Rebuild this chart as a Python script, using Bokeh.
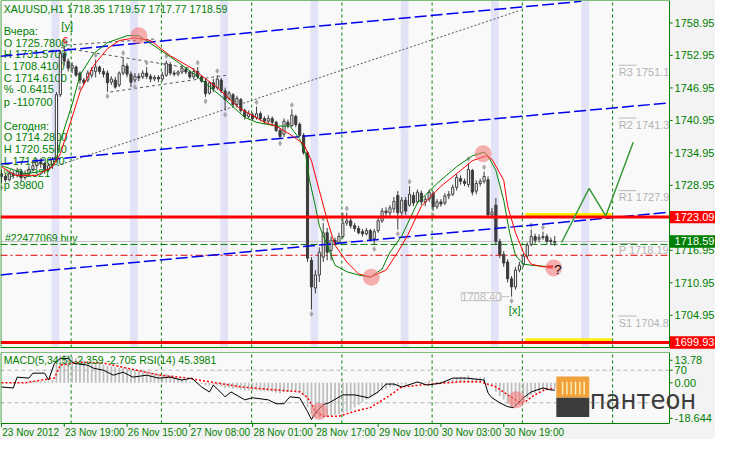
from bokeh.plotting import figure
from bokeh.models import Range1d, Label
from bokeh.layouts import column
from bokeh.embed import file_html
from bokeh.resources import INLINE
from bokeh.core.properties import value

GREEN = "#008000"
FONT = "Liberation Sans"

# ---------------- data ----------------
title_text = "XAUUSD,H1  1718.35 1719.57 1717.77 1718.59"
info_lines = ["Вчера:", "O 1725.7800", "H 1731.5700", "L 1708.4100", "C 1714.6100", "% -0.6415", "p -110700",
              "Сегодня:", "O 1714.2800", "H 1720.5500", "L 1714.0600", "% 0.2321", "p 39800"]

opens = [1731.1, 1730.6, 1730.0, 1731.1, 1730.8, 1731.5, 1730.4, 1731.1, 1731.9, 1732.6,
         1733.3, 1733.0, 1731.9, 1732.6, 1733.7, 1745.7, 1753.3, 1751.9, 1750.6, 1750.8,
         1749.7, 1748.4, 1748.4, 1749.3, 1750.0, 1750.8, 1750.0, 1749.7, 1748.0, 1748.4,
         1747.5, 1749.7, 1751.0, 1749.5, 1748.4, 1749.1, 1749.0, 1749.7, 1749.1, 1748.6,
         1748.9, 1748.6, 1749.3, 1751.3, 1749.7, 1749.5, 1749.9, 1750.4, 1749.9, 1749.0,
         1750.0, 1749.0, 1748.2, 1746.0, 1747.9, 1747.0, 1748.4, 1746.4, 1745.0, 1745.7,
         1743.9, 1744.8, 1742.8, 1741.7, 1742.0, 1741.5, 1742.2, 1741.3, 1740.8, 1741.3,
         1740.6, 1739.1, 1738.4, 1740.6, 1740.0, 1741.7, 1740.2, 1738.2, 1735.0, 1715.1,
         1710.0, 1712.4, 1715.7, 1720.2, 1716.9, 1718.8, 1718.4, 1719.5, 1722.0, 1722.4,
         1721.5, 1721.0, 1720.4, 1720.0, 1720.6, 1719.1, 1720.6, 1722.4, 1724.2, 1723.9,
         1724.6, 1727.1, 1723.9, 1726.2, 1725.3, 1727.1, 1725.9, 1727.5, 1725.9, 1726.4,
         1727.5, 1725.0, 1725.9, 1725.7, 1727.0, 1727.3, 1728.6, 1730.2, 1729.7, 1729.1,
         1731.7, 1727.9, 1729.3, 1729.7, 1730.0, 1723.5, 1725.3, 1718.6, 1716.2, 1714.8,
         1711.7, 1710.2, 1713.3, 1714.4, 1715.9, 1718.0, 1719.5, 1719.0, 1719.3, 1719.5,
         1718.8, 1718.35]
closes = [1730.6, 1730.0, 1731.1, 1730.8, 1731.5, 1730.4, 1731.1, 1731.9, 1732.6, 1733.3,
          1733.0, 1731.9, 1732.6, 1733.7, 1745.7, 1753.3, 1751.9, 1750.6, 1751.1, 1749.3,
          1748.4, 1747.9, 1749.7, 1750.2, 1750.8, 1750.0, 1749.5, 1747.9, 1748.6, 1747.1,
          1749.7, 1751.1, 1749.5, 1748.0, 1749.1, 1748.8, 1749.7, 1749.1, 1748.6, 1748.9,
          1748.6, 1749.3, 1751.5, 1749.7, 1749.5, 1749.9, 1750.6, 1749.9, 1749.0, 1750.0,
          1749.0, 1748.2, 1745.9, 1747.9, 1746.8, 1748.6, 1746.4, 1744.8, 1746.0, 1743.9,
          1745.0, 1742.8, 1741.7, 1742.2, 1741.3, 1742.2, 1741.3, 1740.8, 1741.3, 1740.6,
          1739.1, 1738.0, 1740.8, 1740.0, 1741.9, 1740.2, 1738.2, 1735.0, 1715.5, 1710.2,
          1712.4, 1716.6, 1720.2, 1716.6, 1718.8, 1718.4, 1719.5, 1722.0, 1722.4, 1721.5,
          1721.0, 1720.2, 1720.0, 1720.6, 1719.0, 1720.4, 1722.4, 1724.2, 1723.9, 1724.8,
          1726.0, 1723.9, 1726.2, 1724.2, 1727.3, 1725.7, 1727.7, 1725.9, 1726.4, 1727.7,
          1725.0, 1725.9, 1725.5, 1727.0, 1727.3, 1728.6, 1730.4, 1729.7, 1729.3, 1731.9,
          1727.7, 1729.3, 1729.7, 1730.6, 1723.5, 1724.0, 1718.6, 1716.2, 1714.6, 1711.7,
          1710.2, 1713.3, 1714.2, 1715.9, 1717.9, 1719.5, 1718.8, 1719.3, 1719.5, 1718.6,
          1718.6, 1718.59]
highs = [1731.9, 1731.1, 1731.5, 1731.7, 1732.2, 1731.9, 1731.7, 1732.6, 1733.3, 1734.0,
         1733.9, 1733.3, 1733.1, 1734.2, 1746.2, 1753.9, 1754.6, 1752.4, 1751.7, 1751.1,
         1750.0, 1748.8, 1750.2, 1750.8, 1752.2, 1751.1, 1750.6, 1750.2, 1749.1, 1749.0,
         1750.0, 1752.6, 1751.5, 1750.0, 1749.7, 1749.7, 1750.2, 1750.8, 1749.5, 1749.3,
         1749.3, 1749.9, 1752.0, 1751.7, 1750.2, 1750.2, 1751.1, 1750.8, 1750.2, 1750.4,
         1750.8, 1749.3, 1748.6, 1748.2, 1748.6, 1749.3, 1748.8, 1747.0, 1746.4, 1746.0,
         1745.5, 1745.1, 1743.1, 1742.8, 1742.4, 1743.5, 1742.6, 1741.7, 1741.9, 1741.7,
         1740.9, 1739.5, 1741.3, 1741.1, 1743.0, 1742.0, 1740.6, 1738.6, 1735.3, 1715.7,
         1713.3, 1717.5, 1722.0, 1721.1, 1719.5, 1719.3, 1720.2, 1723.9, 1723.9, 1722.9,
         1722.0, 1721.5, 1720.9, 1721.1, 1720.9, 1720.9, 1722.9, 1724.8, 1724.9, 1725.3,
         1726.8, 1727.9, 1726.8, 1726.8, 1728.8, 1727.7, 1728.2, 1728.0, 1727.0, 1728.2,
         1727.9, 1726.4, 1726.4, 1727.5, 1727.9, 1729.1, 1731.0, 1730.8, 1730.2, 1733.0,
         1732.0, 1729.9, 1730.2, 1731.5, 1730.6, 1724.8, 1726.6, 1719.1, 1716.8, 1715.3,
         1712.2, 1713.9, 1714.8, 1716.4, 1718.4, 1720.8, 1720.0, 1719.9, 1720.4, 1720.0,
         1719.3, 1719.57]
lows = [1729.3, 1729.5, 1729.7, 1730.2, 1730.4, 1729.7, 1730.0, 1730.8, 1731.5, 1732.0,
        1732.2, 1731.1, 1731.5, 1732.0, 1733.3, 1745.3, 1751.1, 1750.0, 1749.7, 1749.0,
        1747.7, 1747.5, 1748.0, 1748.8, 1748.9, 1749.5, 1748.9, 1746.2, 1747.5, 1746.8,
        1747.1, 1749.3, 1748.9, 1747.1, 1747.9, 1748.2, 1748.6, 1748.6, 1748.0, 1748.2,
        1748.0, 1748.2, 1749.0, 1749.3, 1749.1, 1749.1, 1749.5, 1749.5, 1748.6, 1748.6,
        1748.6, 1747.9, 1745.3, 1745.7, 1746.2, 1746.6, 1746.0, 1742.8, 1744.6, 1743.3,
        1743.3, 1742.4, 1741.1, 1741.3, 1741.0, 1741.1, 1740.8, 1740.2, 1740.4, 1740.0,
        1738.8, 1737.5, 1737.9, 1739.5, 1739.7, 1739.7, 1737.9, 1734.6, 1714.8, 1706.0,
        1709.0, 1711.1, 1714.8, 1715.1, 1715.1, 1717.9, 1718.0, 1719.1, 1721.5, 1721.0,
        1720.4, 1719.9, 1719.5, 1719.7, 1718.6, 1718.0, 1720.2, 1722.0, 1723.3, 1723.3,
        1723.9, 1720.8, 1723.3, 1723.5, 1725.0, 1725.1, 1725.5, 1725.3, 1725.1, 1725.9,
        1724.2, 1724.6, 1725.0, 1725.3, 1726.4, 1727.0, 1728.0, 1729.1, 1728.8, 1728.6,
        1727.1, 1727.3, 1728.8, 1729.3, 1722.8, 1722.8, 1718.0, 1715.5, 1713.9, 1711.0,
        1708.4, 1709.7, 1712.9, 1713.9, 1715.5, 1717.7, 1718.2, 1718.4, 1718.9, 1718.2,
        1717.9, 1717.77]

fast_x = [0, 6, 12, 14, 15, 18, 20, 23.5, 27, 32, 35, 40, 45, 50, 57, 62, 65, 70, 73.5, 76,
          77.5, 78.5, 80, 81, 83, 85, 88, 91, 94, 97, 99, 102, 106, 111, 116, 120, 123, 124, 126, 128,
          129.5, 131, 133, 135, 140]
fast_ma = [1732.6, 1731.1, 1731.7, 1733.9, 1737.1, 1743.9, 1749.3, 1753.3, 1755.3, 1756.6,
           1756.6, 1754.2, 1751.7, 1749.0, 1744.8, 1741.5, 1740.6, 1739.9, 1739.9, 1737.5,
           1734.8, 1729.9, 1725.1, 1721.5, 1717.9, 1714.2, 1713.0, 1712.4, 1712.0, 1713.5,
           1716.6, 1719.6, 1725.7, 1729.3, 1732.4, 1734.4, 1735.1, 1734.4, 1731.7, 1726.2,
           1720.2, 1716.0, 1714.4, 1714.2, 1713.9]
slow_x = [0, 3.5, 9, 13, 15, 18, 20, 23.5, 27, 30, 34, 38, 43, 48.5, 55, 60.5, 67, 70, 73.5, 77,
          79, 81, 83, 85, 88, 91, 94, 98, 101, 103.5, 107, 112, 117, 120, 123.5, 125, 128, 129, 131, 133,
          135, 138, 140]
slow_ma = [1732.4, 1730.8, 1730.8, 1732.4, 1734.8, 1741.5, 1746.2, 1751.1, 1754.2, 1755.7,
           1756.2, 1755.7, 1752.9, 1750.6, 1747.0, 1743.3, 1740.6, 1739.9, 1738.4, 1736.6,
           1733.5, 1728.0, 1722.6, 1717.9, 1714.8, 1712.6, 1712.0, 1713.3, 1716.6, 1719.7,
           1725.1, 1728.8, 1731.7, 1733.5, 1734.4, 1733.8, 1729.9, 1725.1, 1720.2, 1716.6,
           1714.4, 1713.9, 1713.9]

blue_x0 = [-0.25, -0.25, -0.25]
blue_y0 = [1752.8, 1732.9, 1712.4]
blue_x1 = [147.75, 170.25, 170.25]
blue_y1 = [1762.95, 1744.2, 1724.0]
dot_x0, dot_y0, dot_x1, dot_y1 = [14.25], [1732.6], [132.25], [1761.3]
tri_x0 = [15.25, 15.25, 27.75]
tri_y0 = [1754.8, 1754.4, 1746.2]
tri_x1 = [39.25, 49.75, 57.25]
tri_y1 = [1756.0, 1750.4, 1749.3]

forecast_x = [142.75, 149.75, 154, 161]
forecast_y = [1718.4, 1728.4, 1723.3, 1736.9]

frac_up = [16, 24, 31, 37, 42, 50, 55, 65, 74, 82, 88, 104, 119, 123, 135, 138]
frac_dn = [0, 20, 27, 34, 52, 57, 71, 79, 95, 101, 110, 130]

support_levels = [1723.09, 1699.93]
bid_price = 1718.59
order_price = 1718.04
stop_price = 1716.04
zone_x = [133.5, 155.5]

pivot_names = ["R3", "R2", "R1", "P", "S1"]
pivot_values = [1751.14, 1741.39, 1727.98, 1718.19, 1704.82]

session_start = [12.75, 32.75, 55.75, 78.75, 101.75, 124.75, 147.75]
grid_bars = [17.75, 40.75, 63.75, 86.75, 109.75, 132.75, 155.75]

price_ticks = [1758.95, 1752.95, 1746.95, 1740.95, 1734.95, 1728.95, 1716.95, 1710.95, 1704.95]
price_boxes = [1723.09, 1718.59, 1699.93]
price_box_colors = ["#ff0000", GREEN, "#ff0000"]

hl_main_x = [35, 122.75, 94.25, 140.75]
hl_main_y = [1756.6, 1734.8, 1712.0, 1713.7]
hl_sub_x = [81, 131.25]
hl_sub_y = [-13.4, -7.9]

macd_hist = [0.2, 0.1, -0.2, -0.3, 0.0, 0.2, 0.3, 0.5, 0.8, 1.0, 1.0, 0.7, 0.8, 1.5,
             11.0, 12.8, 13.2, 12.8, 12.2, 11.6, 11.0, 10.5, 10.2, 9.7, 9.4, 9.0, 8.6, 8.1, 7.8, 7.3,
             7.1, 7.2, 6.9, 6.4, 6.2, 6.0, 5.8, 5.6, 5.1, 4.7, 4.3, 3.9, 4.2, 3.4, 2.6, 2.1, 1.8, 1.3, 0.6, 0.3,
             -0.2, -0.6, -1.3, -1.2, -1.5, -1.1, -1.7, -2.4, -2.2, -2.8, -2.6, -3.2, -3.6, -3.6, -3.8, -3.6,
             -3.8, -4.0, -3.9, -4.1, -4.6, -5.0, -4.3, -4.2, -3.6, -3.8, -4.5, -6.0,
             -11.5, -14.5, -16.0, -16.2, -15.8, -15.8, -15.5, -15.0, -14.8, -14.2, -13.5, -12.8, -11.6,
             -10.4, -9.2, -8.0, -6.9, -5.8, -4.7, -3.7, -2.8, -2.0,
             -1.5, -1.6, -0.8, -0.8, 0.2, 0.0, 0.6, 0.4, 0.5, 1.0, 0.3, 0.5, 0.6, 1.0, 1.2, 1.7, 2.6, 2.8,
             2.7, 3.5, 2.4, 2.4, 2.5, 2.7,
             -0.5, -1.4, -4.2, -6.2, -7.8, -9.8, -11.2, -10.8, -10.2, -9.0, -7.4, -5.8, -4.8, -4.0, -3.4,
             -3.0, -2.6, -2.359]
signal_x = [0, 6, 13.5, 15, 20, 26, 32, 40, 47, 53, 61, 69, 76, 78, 80, 82, 86, 90, 94, 98.5,
            102, 110, 117, 122, 126, 129, 132, 133.5, 136, 138.5, 141]
signal_v = [0.0, 0.0, 2.3, 8.3, 9.7, 9.3, 6.9, 3.7, 2.3, 0.5, -1.9, -3.2, -4.2, -6.9, -13.4, -15.7,
            -15.7, -13.4, -11.6, -6.5, -1.9, -0.5, 0.5, 0.5, -1.9, -5.6, -9.3, -8.8, -5.6, -3.2, -2.705]
rsi_x = [0, 3, 4, 7, 8, 11, 12, 13.5, 15, 17, 18.5, 22, 23.5, 26, 28.5, 31, 33.5, 37, 40, 43, 46,
         48.5, 51, 53, 54, 57, 58.5, 62, 64, 68, 70, 72, 73.5, 76, 78, 79, 80, 82, 83.5, 87, 90, 93.5,
         96, 98, 100, 102, 106, 108.5, 112, 115, 118.5, 123, 124, 125, 127, 129, 130.5, 133, 135,
         138, 140, 141]
rsi_v = [49.4, 48.2, 61.5, 60.3, 66.4, 66.4, 57.9, 78.5, 84.5, 84.5, 78.5, 76.1, 72.4, 70.0, 63.9,
         67.6, 61.5, 63.9, 60.3, 61.5, 57.9, 60.3, 49.4, 43.3, 51.8, 37.3, 43.3, 33.6, 36.1, 33.6,
         28.8, 28.8, 37.3, 36.1, 19.1, 9.4, 17.9, 27.6, 30.0, 39.7, 39.7, 36.1, 43.3, 53.0, 53.0,
         49.4, 55.5, 51.8, 54.2, 60.3, 60.3, 57.9, 42.1, 36.1, 30.0, 25.2, 23.9, 36.1, 43.3, 48.2,
         45.8, 45.4]
rsi_levels = [70, 30]
sub_title = "MACD(5,34,5) -2.359 -2.705  RSI(14) 45.3981"
sub_tick_pos = [10.6, 5.92, 0.0, -16.7]
sub_tick_text = ["13.78", "70", "0.00", "-18.644"]

date_bars = [0, 16, 32, 48, 64, 80, 96, 112, 128]
date_labels = ["23 Nov 2012", "23 Nov 19:00", "26 Nov 15:00", "27 Nov 08:00", "28 Nov 01:00",
               "28 Nov 17:00", "29 Nov 10:00", "30 Nov 03:00", "30 Nov 19:00"]

# ---------------- layout geometry ----------------
W = 715
X0, XP, XE = -0.25, 170.25, 181.97          # plot start, plot end, canvas end (bars)
PY0, PY1, PYB = 1699.0, 1763.1, 1698.08     # price plot bottom/top, canvas bottom
MY0, MY1, MYB = -19.1, 14.25, -26.62        # macd plot bottom/top, canvas bottom
RSI0, RSI1, RSIB = 4.5, 91.8, -15.17
BG = "#f9f9f9"
OUT = "#f3f3f3"


def make_fig(h, y0, y1):
    f = figure(width=W, height=h, x_range=Range1d(X0, XE), y_range=Range1d(y0, y1),
               output_backend="svg", toolbar_location=None, x_axis_location=None,
               y_axis_location=None, min_border_left=0, min_border_right=0,
               min_border_top=0, min_border_bottom=0)
    f.background_fill_color = OUT
    f.border_fill_color = OUT
    f.outline_line_color = None
    f.grid.visible = False
    return f


def txt(f, x, y, t, color=GREEN, size="10px", font=FONT, **kw):
    f.text(x=x, y=y, text=t, text_color=color, text_font=value(font),
           text_font_size=value(size), text_baseline="middle", **kw)


main = make_fig(352, PYB, PY1)
sub = make_fig(87, MYB, MY1)
sub.extra_y_ranges = {"rsi": Range1d(RSIB, RSI1)}

# plot area backgrounds
main.quad(left=[X0], right=[XP], bottom=[PY0], top=[PY1], fill_color=BG, line_color=None)
sub.quad(left=[X0], right=[XP], bottom=[MY0], top=[MY1], fill_color=BG, line_color=None)

# session bands and vertical grid
main.quad(left=session_start, right=[s + 2 for s in session_start], bottom=PY0, top=PY1,
          fill_color="#e3e3f7", line_color=None)
main.segment(x0=grid_bars, y0=PY0, x1=grid_bars, y1=PY1, line_color=GREEN, line_dash="3 3", line_width=1)
sub.segment(x0=grid_bars, y0=MY0, x1=grid_bars, y1=MY1, line_color=GREEN, line_dash="3 3", line_width=1)

# info texts (under candles)
info_y = [1757.5, 1755.3, 1753.3, 1751.0, 1748.8, 1746.8, 1744.4, 1740.0, 1737.9, 1735.7, 1733.5, 1731.3, 1729.1]
txt(main, [0.6] * len(info_lines), info_y, info_lines, size="11px")
txt(main, [0.6], [1761.6], [title_text], size="10.5px")
txt(main, [0.9], [1719.3], ["#22477069 buy"], size="10.5px")

# pivot labels
main.segment(x0=[157.3] * 5, y0=pivot_values, x1=[161.8] * 5, y1=pivot_values,
             line_color="#b9b9b9", line_width=1)
txt(main, [157.3] * 5, [v - 1.25 for v in pivot_values],
    [f"{n} {v:.2f}" for n, v in zip(pivot_names, pivot_values)], color="#b4b4b4", size="11px")

# horizontal lines
main.segment(x0=[X0], y0=[bid_price], x1=[XP], y1=[bid_price], line_color="#c4c4c4", line_width=1)
main.segment(x0=[X0], y0=[order_price], x1=[XP], y1=[order_price], line_color=GREEN,
             line_dash="7 3", line_width=1)
main.segment(x0=[X0], y0=[stop_price], x1=[XP], y1=[stop_price], line_color="#e00000",
             line_dash="7 3 2 3", line_width=1)

# trend lines
main.segment(x0=tri_x0, y0=tri_y0, x1=tri_x1, y1=tri_y1, line_color="#555555", line_dash="3 3", line_width=1)
main.segment(x0=dot_x0, y0=dot_y0, x1=dot_x1, y1=dot_y1, line_color="#555555", line_dash="2 2", line_width=1)

# candles
idx = list(range(len(closes)))
main.segment(x0=idx, y0=highs, x1=idx, y1=lows, line_color="#3c3c3c", line_width=1)
bull = [i for i in idx if closes[i] >= opens[i]]
bear = [i for i in idx if closes[i] < opens[i]]
main.vbar(x=bull, bottom=[opens[i] for i in bull], top=[closes[i] for i in bull], width=0.55,
          fill_color="#ffffff", line_color="#3c3c3c", line_width=1)
main.vbar(x=bear, bottom=[closes[i] for i in bear], top=[opens[i] for i in bear], width=0.55,
          fill_color="#3c3c3c", line_color="#3c3c3c", line_width=1)

# fractals
main.scatter(x=frac_up, y=[highs[i] + 0.8 for i in frac_up], marker="diamond", size=6,
             fill_color="#a8a8a8", line_color=None)
main.scatter(x=frac_dn, y=[lows[i] - 0.8 for i in frac_dn], marker="diamond", size=6,
             fill_color="#a8a8a8", line_color=None)

# blue channel
main.segment(x0=blue_x0, y0=blue_y0, x1=blue_x1, y1=blue_y1, line_color="#0000ee",
             line_dash="12 4", line_width=1.5)

# moving averages
main.line(fast_x, fast_ma, line_color=GREEN, line_width=1)
main.line(slow_x, slow_ma, line_color="#ff0000", line_width=1)
main.segment(x0=[139], y0=[1713.9], x1=[140.6], y1=[1713.9], line_color="#dd0000", line_width=3)

# zones & levels
main.segment(x0=[zone_x[0]] * 2, y0=[v + 0.3 for v in support_levels], x1=[zone_x[1]] * 2,
             y1=[v + 0.3 for v in support_levels], line_color="#ffee00", line_width=5)
main.segment(x0=[X0] * 2, y0=support_levels, x1=[XP] * 2, y1=support_levels,
             line_color="#ff0000", line_width=3)

# forecast
main.line(forecast_x, forecast_y, line_color="#3a9a3a", line_width=1.5)

# highlights
main.scatter(x=hl_main_x, y=hl_main_y, size=17, fill_color="#f27a7a", fill_alpha=0.6, line_color=None)

txt(main, [15.25], [1758.3], ["[y]"], size="11px")
txt(main, [15.6], [1755.9], ["c"], color="#ff0000", size="11px")
txt(main, [129.3], [1706.0], ["[x]"], size="11px")
txt(main, [140.9], [1713.4], ["?"], color="#000000", size="13px")
main.segment(x0=[124.8], y0=[1708.4], x1=[129.5], y1=[1708.4], line_color="#c0c0c0", line_width=1)
main.add_layout(Label(x=117.2, y=1708.4, text="1708.40", text_color="#bdbdbd", text_font=FONT,
                      text_font_size="11px", text_baseline="middle", border_line_color="#c8c8c8",
                      background_fill_color="#fafafa"))

# right axis area (main)
main.quad(left=[XP], right=[XE], bottom=[PYB], top=[PY1], fill_color=OUT, line_color=None)
main.segment(x0=[XP] * len(price_ticks), y0=price_ticks, x1=[XP + 0.8] * len(price_ticks),
             y1=price_ticks, line_color=GREEN, line_width=1)
txt(main, [XP + 1.3] * len(price_ticks), price_ticks, [f"{t:.2f}" for t in price_ticks], size="11px")
main.quad(left=[XP + 0.1] * 3, right=[XE - 0.1] * 3, bottom=[v - 1.15 for v in price_boxes],
          top=[v + 1.15 for v in price_boxes], fill_color=price_box_colors, line_color=None)
txt(main, [XP + 1.3] * 3, price_boxes, [f"{v:.2f}" for v in price_boxes], color="#ffffff", size="11px")
main.quad(left=[X0 + 0.1], right=[XP], bottom=[PY0], top=[PY1], fill_color=None,
          line_color=GREEN, line_width=1)

# ---------------- indicator panel ----------------
sub.segment(x0=[X0] * 2, y0=rsi_levels, x1=[XP] * 2, y1=rsi_levels, y_range_name="rsi",
            line_color="#b4b4b4", line_dash="4 3", line_width=1)
sub.vbar(x=list(range(len(macd_hist))), bottom=0, top=macd_hist, width=0.45,
         fill_color="#bdbdbd", line_color=None)
sub.line(signal_x, signal_v, line_color="#ff0000", line_dash="2 2", line_width=1.5)
sub.line(rsi_x, rsi_v, y_range_name="rsi", line_color="#000000", line_width=1)
sub.scatter(x=hl_sub_x, y=hl_sub_y, size=17, fill_color="#f27a7a", fill_alpha=0.6, line_color=None)
txt(sub, [0.6], [10.6], [sub_title], size="10.5px")

sub.quad(left=[XP], right=[XE], bottom=[MYB], top=[MY1], fill_color=OUT, line_color=None)
sub.segment(x0=[XP] * len(sub_tick_pos), y0=sub_tick_pos, x1=[XP + 0.8] * len(sub_tick_pos),
            y1=sub_tick_pos, line_color=GREEN, line_width=1)
txt(sub, [XP + 1.3] * len(sub_tick_pos), sub_tick_pos, sub_tick_text, size="11px")
sub.quad(left=[X0 + 0.1], right=[XP], bottom=[MY0], top=[MY1], fill_color=None,
         line_color=GREEN, line_width=1)

# date axis
sub.segment(x0=date_bars, y0=MY0, x1=date_bars, y1=MY0 - 1.6, line_color=GREEN, line_width=1)
txt(sub, [b + 0.2 for b in date_bars], [-23.4] * len(date_bars), date_labels, size="10px")

# logo
sub.quad(left=[141.4], right=[149.8], bottom=[-7.0], top=[3.0], fill_color="#f2a23a", line_color=None)
sub.quad(left=[141.4], right=[149.8], bottom=[-16.0], top=[-7.0], fill_color="#3c3c3c", line_color=None)
sub.vbar(x=[143.0, 144.1, 145.2, 146.3, 147.4, 148.5], bottom=-5.5, top=0.5, width=0.35,
         fill_color="#fff2c0", line_color=None)
txt(sub, [149.9], [-7.8], ["пантеон"], color="#3c3c3c", size="27px", font="DejaVu Sans Condensed")

layout = column(main, sub)
open("out.html", "w").write(file_html(layout, INLINE))
